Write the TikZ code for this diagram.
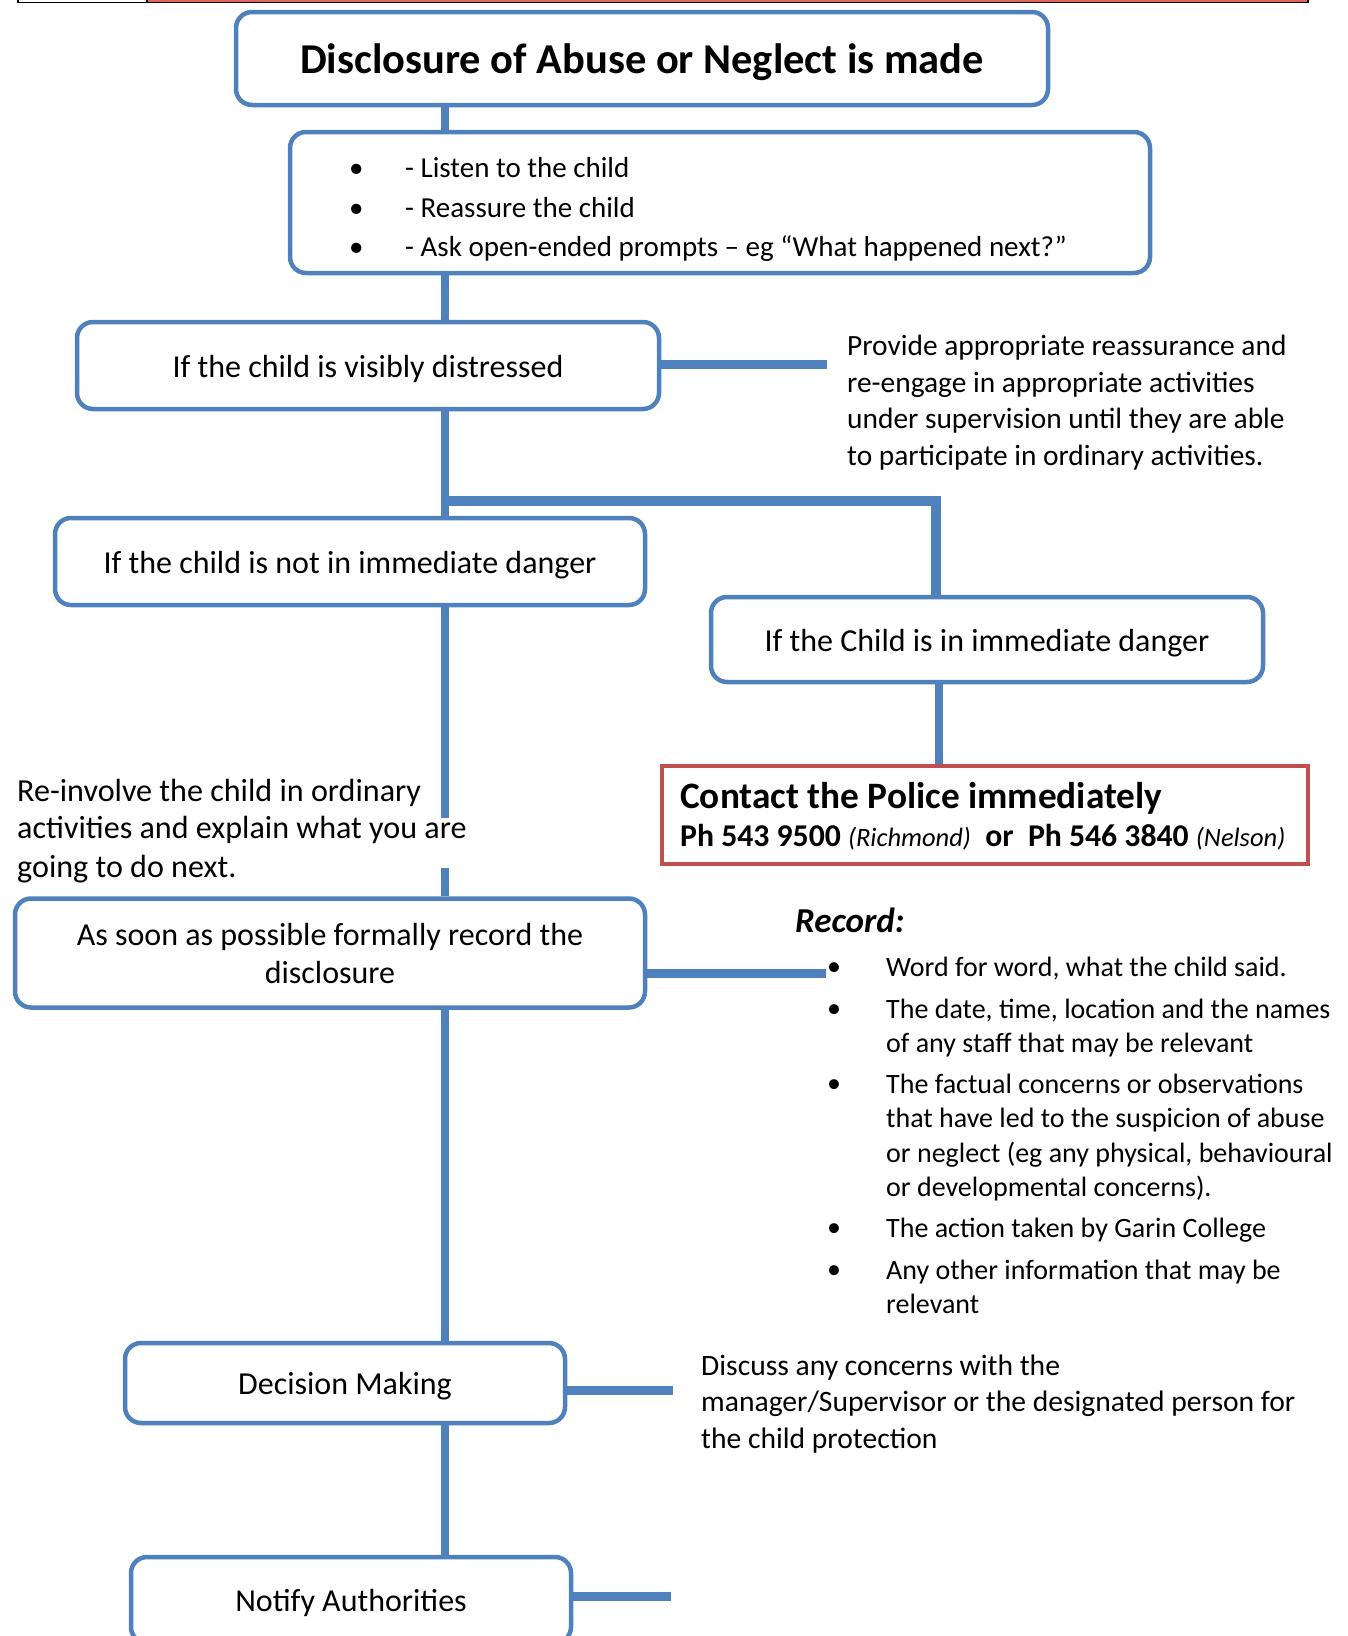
\documentclass[tikz,border=0pt]{standalone}
\usepackage{fontspec}
\setmainfont{Carlito}
\definecolor{bblue}{RGB}{79,129,189}
\definecolor{pred}{RGB}{192,80,77}
\definecolor{sred}{RGB}{224,102,92}
\begin{document}
\begin{tikzpicture}[x=1pt,y=-1pt,
  box/.style={draw=bblue, line width=4.5pt, rounded corners=16pt, fill=white, align=center, inner sep=0pt, font=\fontsize{32}{38}\selectfont},
  onebox/.style={box, text height=23pt, text depth=0pt},
  conn/.style={draw=bblue, line width=8pt},
  ln/.style={anchor=base west, inner sep=0pt, font=\fontsize{29.4}{35}\selectfont},
  rl/.style={anchor=base west, inner sep=0pt, font=\fontsize{28}{35}\selectfont},
  bl/.style={anchor=base west, inner sep=0pt, font=\fontsize{28}{35}\selectfont},
  big/.style={anchor=base west, inner sep=0pt, font=\fontsize{32.1}{37}\selectfont}
]
\useasboundingbox (0,0) rectangle (1348,1636);
\clip (0,0) rectangle (1348,1636);

% top strip
\draw[black, line width=1.5pt, fill=white] (18,-3) rectangle (147,2.5);
\draw[black, line width=1.5pt, fill=sred] (147,-3) rectangle (1308,2.5);

% coordinates
\coordinate (tx) at (445,0);
\coordinate (dx) at (939,0);
\coordinate (br) at (445,501);
\coordinate (brr) at (936,501);
\coordinate (dr) at (827,364);
\coordinate (g1) at (445,818);
\coordinate (g2) at (445,868);
\coordinate (rr) at (826,973);
\coordinate (decr) at (673,1390);
\coordinate (notr) at (671,1596);

% boxes
\node[box, text height=30pt, text depth=0pt, minimum width=812pt, minimum height=93pt, font=\bfseries\fontsize{42.5}{48}\selectfont] (title) at (642,58.5) {Disclosure of Abuse or Neglect is made};
\node[box, minimum width=860pt, minimum height=141pt] (listen) at (720,202.5) {};
\node[onebox, minimum width=582pt, minimum height=87pt] (distressed) at (368,365.5) {If the child is visibly distressed};
\node[onebox, minimum width=590pt, minimum height=87pt] (notdanger) at (350,561.5) {If the child is not in immediate danger};
\node[onebox, minimum width=552pt, minimum height=85pt] (danger) at (987,639.5) {If the Child is in immediate danger};
\node[draw=pred, line width=4pt, fill=white, minimum width=646pt, minimum height=98pt, inner sep=0pt] (police) at (985,815) {};
\node[box, minimum width=630pt, minimum height=109pt, font=\fontsize{32}{38}\selectfont] (record) at (330,953) {As soon as possible formally record the\\disclosure};
\node[onebox, minimum width=440pt, minimum height=80pt] (decision) at (345,1383) {Decision Making};
\node[onebox, minimum width=440pt, minimum height=86pt] (notify) at (351,1600) {Notify Authorities};

% connectors
\draw[conn] (title.south -| tx) -- (listen.north -| tx);
\draw[conn] (listen.south -| tx) -- (distressed.north -| tx);
\draw[conn, line width=9pt] (distressed.east |- dr) -- (dr);
\draw[conn] (distressed.south -| tx) -- (notdanger.north -| tx);
\draw[conn, line width=10pt, line join=miter] (br) -- (brr) -- (danger.north -| brr);
\draw[conn] (danger.south -| dx) -- (police.north -| dx);
\draw[conn] (notdanger.south -| tx) -- (g1);
\draw[conn] (g2) -- (record.north -| tx);
\draw[conn, line width=9pt] (record.east |- rr) -- (rr);
\draw[conn] (record.south -| tx) -- (decision.north -| tx);
\draw[conn, line width=9pt] (decision.east |- decr) -- (decr);
\draw[conn] (decision.south -| tx) -- (notify.north -| tx);
\draw[conn, line width=9pt] (notify.east |- notr) -- (notr);

% listen box content
\node[ln, font=\fontsize{29}{35}\selectfont] (l1) at (349,177) {\makebox[56pt][l]{\textbullet}- Listen to the child};
\node[ln, font=\fontsize{29}{35}\selectfont] (l2) at (349,217) {\makebox[56pt][l]{\textbullet}- Reassure the child};
\node[ln, font=\fontsize{29}{35}\selectfont] (l3) at (349,256) {\makebox[56pt][l]{\textbullet}- Ask open-ended prompts – eg “What happened next?”};

% provide text
\node[ln] (p1) at (847,355) {Provide appropriate reassurance and};
\node[ln] (p2) at (847,392) {re-engage in appropriate activities};
\node[ln] (p3) at (847,428) {under supervision until they are able};
\node[ln] (p4) at (847,465) {to participate in ordinary activities.};

% police text
\node[anchor=base west, inner sep=0pt, font=\bfseries\fontsize{37.3}{44}\selectfont] (pol1) at (680,808) {Contact the Police immediately};
\node[anchor=base west, inner sep=0pt, font=\bfseries\fontsize{31.7}{36}\selectfont] (pol2) at (680,846) {Ph 543 9500 {\mdseries\itshape\fontsize{26.5}{30}\selectfont (Richmond)}\ \ or\ \ Ph 546 3840 {\mdseries\itshape\fontsize{26.5}{30}\selectfont (Nelson)}};

% re-involve text
\node[big] (re1) at (17,801) {Re-involve the child in ordinary};
\node[big] (re2) at (17,838) {activities and explain what you are};
\node[big] (re3) at (17,877) {going to do next.};

% record list
\node[anchor=base west, inner sep=0pt, font=\bfseries\itshape\fontsize{35}{40}\selectfont] (rech) at (795,932) {Record:};
\node[bl] (b1) at (827,975) {\textbullet};
\node[bl] (b2) at (827,1017) {\textbullet};
\node[bl] (b3) at (827,1092) {\textbullet};
\node[bl] (b4) at (827,1236) {\textbullet};
\node[bl] (b5) at (827,1278) {\textbullet};
\node[rl] (r1) at (886,976) {Word for word, what the child said.};
\node[rl] (r2a) at (886,1018) {The date, time, location and the names};
\node[rl] (r2b) at (886,1052) {of any staff that may be relevant};
\node[rl] (r3a) at (886,1093) {The factual concerns or observations};
\node[rl] (r3b) at (886,1127) {that have led to the suspicion of abuse};
\node[rl] (r3c) at (886,1162) {or neglect (eg any physical, behavioural};
\node[rl] (r3d) at (886,1196) {or developmental concerns).};
\node[rl] (r4) at (886,1237) {The action taken by Garin College};
\node[rl] (r5a) at (886,1279) {Any other information that may be};
\node[rl] (r5b) at (886,1313) {relevant};

% discuss text
\node[ln, font=\fontsize{29.6}{35}\selectfont] (d1) at (701,1375) {Discuss any concerns with the};
\node[ln, font=\fontsize{29.6}{35}\selectfont] (d2) at (701,1411) {manager/Supervisor or the designated person for};
\node[ln, font=\fontsize{29.6}{35}\selectfont] (d3) at (701,1448) {the child protection};
\end{tikzpicture}
\end{document}
